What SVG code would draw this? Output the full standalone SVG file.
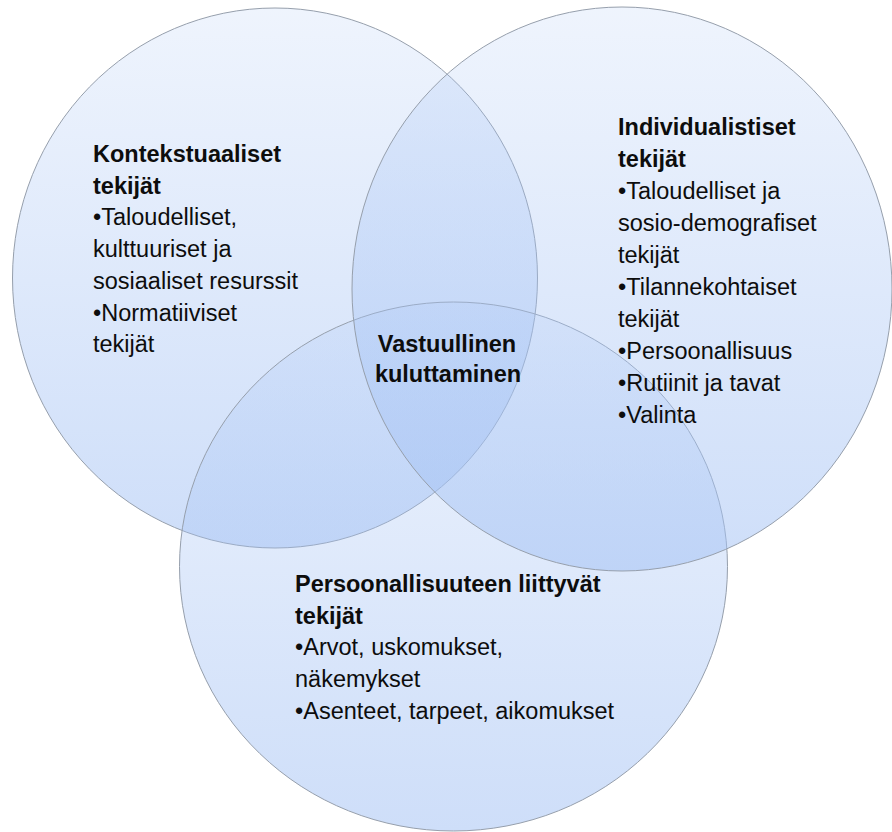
<svg xmlns="http://www.w3.org/2000/svg" width="892" height="832" viewBox="0 0 892 832">
  <style>
    .set { stroke: #969fac; stroke-width: 1; fill: url(#setFill); }
    .txt { font-family: "Liberation Sans", Arial, sans-serif; font-size: 23.5px; fill: #0d0d0d; }
    .head { font-weight: bold; }
    .mid { text-anchor: middle; }
  </style>
  <defs>
    <!-- translucent blue wash, pale at the top and deeper at the bottom -->
    <linearGradient id="setFill" x1="0" y1="0" x2="0" y2="1">
      <stop offset="0" stop-color="#a4c2f4" stop-opacity="0.18"/>
      <stop offset="1" stop-color="#a4c2f4" stop-opacity="0.54"/>
    </linearGradient>
  </defs>

  <rect width="892" height="832" fill="#ffffff"/>

  <!-- upper-left set -->
  <g id="contextual">
    <ellipse class="set" cx="275" cy="278" rx="262.5" ry="270"/>
    <text class="txt" x="93" y="162">
      <tspan class="head" x="93" y="162">Kontekstuaaliset</tspan>
      <tspan class="head" x="93" y="193.7">tekijät</tspan>
      <tspan x="93" y="225.4">•Taloudelliset,</tspan>
      <tspan x="93" y="257.1">kulttuuriset ja</tspan>
      <tspan x="93" y="288.8">sosiaaliset resurssit</tspan>
      <tspan x="93" y="320.5">•Normatiiviset</tspan>
      <tspan x="93" y="352.2">tekijät</tspan>
    </text>
  </g>

  <!-- lower set -->
  <g id="personal">
    <ellipse class="set" cx="453.5" cy="566.5" rx="274" ry="264.5"/>
    <text class="txt" x="295" y="592">
      <tspan class="head" x="295" y="592">Persoonallisuuteen liittyvät</tspan>
      <tspan class="head" x="295" y="623.7">tekijät</tspan>
      <tspan x="295" y="655.4">•Arvot, uskomukset,</tspan>
      <tspan x="295" y="687.1">näkemykset</tspan>
      <tspan x="295" y="718.8">•Asenteet, tarpeet, aikomukset</tspan>
    </text>
  </g>

  <!-- upper-right set -->
  <g id="individual">
    <ellipse class="set" cx="622" cy="289" rx="270" ry="282"/>
    <text class="txt" x="618" y="135">
      <tspan class="head" x="618" y="135">Individualistiset</tspan>
      <tspan class="head" x="618" y="167">tekijät</tspan>
      <tspan x="618" y="199">•Taloudelliset ja</tspan>
      <tspan x="618" y="231">sosio-demografiset</tspan>
      <tspan x="618" y="263">tekijät</tspan>
      <tspan x="618" y="295">•Tilannekohtaiset</tspan>
      <tspan x="618" y="327">tekijät</tspan>
      <tspan x="618" y="359">•Persoonallisuus</tspan>
      <tspan x="618" y="391">•Rutiinit ja tavat</tspan>
      <tspan x="618" y="423">•Valinta</tspan>
    </text>
  </g>

  <!-- shared centre of all three sets -->
  <g id="centre">
    <text class="txt head mid" x="447" y="352">Vastuullinen</text>
    <text class="txt head mid" x="448" y="382">kuluttaminen</text>
  </g>
</svg>
